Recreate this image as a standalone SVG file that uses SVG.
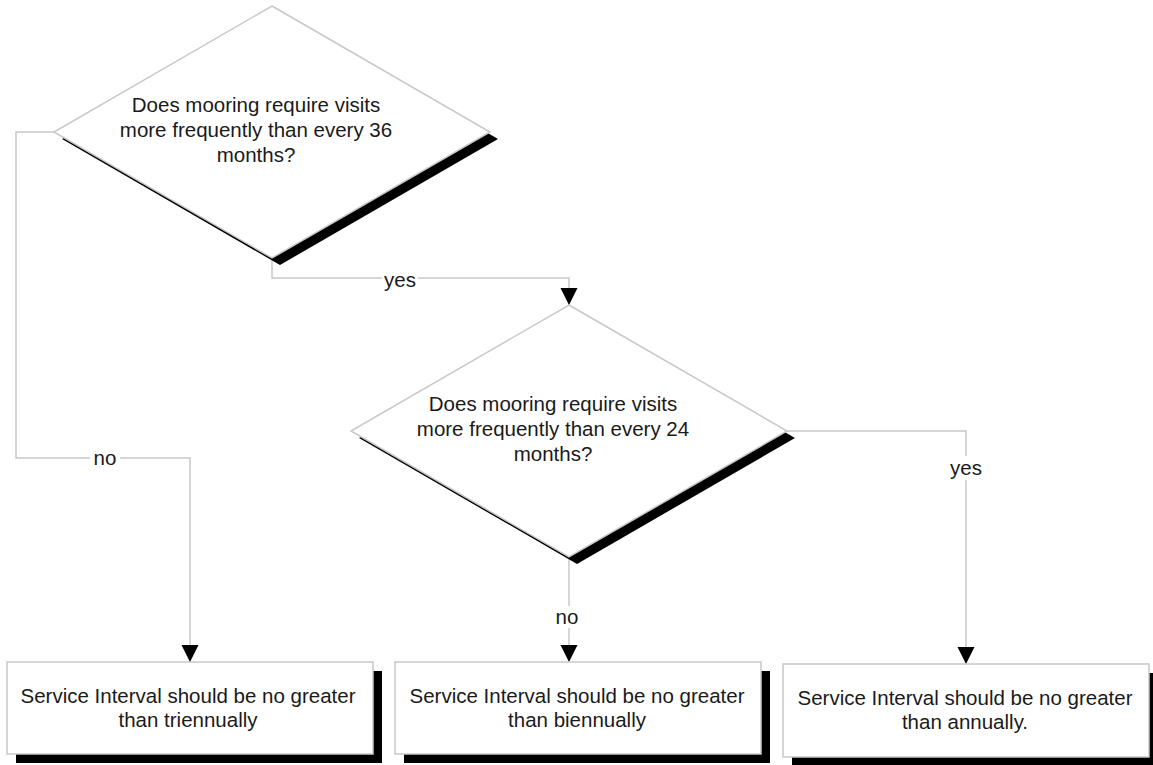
<svg xmlns="http://www.w3.org/2000/svg" width="1153" height="765" viewBox="0 0 1153 765">
<defs>
<style>
.shape{fill:#fff;stroke:#c8c8c8;stroke-width:1.5}
.shadow{fill:#000}
.conn{fill:none;stroke:#c8c8c8;stroke-width:1.5}
.t{font-family:"Liberation Sans",Arial,sans-serif;font-size:20.5px;fill:#1a1a1a;text-anchor:middle}
.lbl{font-family:"Liberation Sans",Arial,sans-serif;font-size:20.5px;fill:#1a1a1a;text-anchor:middle}
.arrow{fill:#000}
</style>
<marker id="ah" markerUnits="userSpaceOnUse" markerWidth="18" markerHeight="18" viewBox="0 0 18 18" refX="17" refY="9" orient="auto">
<path d="M0,0.5 L17,9 L0,17.5 Z" class="arrow"/>
</marker>
</defs>
<rect width="1153" height="765" fill="#fff"/>

<g id="connectors">
<path class="conn" d="M272,258 V278 H569 V305" marker-end="url(#ah)"/>
<path class="conn" d="M54,132 H16 V458 H190 V662" marker-end="url(#ah)"/>
<path class="conn" d="M569,557 V662" marker-end="url(#ah)"/>
<path class="conn" d="M787,431 H966 V664" marker-end="url(#ah)"/>
<rect x="382" y="268" width="36" height="22" fill="#fff"/>
<text class="lbl" x="400" y="287">yes</text>
<rect x="90" y="448" width="30" height="22" fill="#fff"/>
<text class="lbl" x="105" y="465">no</text>
<rect x="553" y="606" width="30" height="22" fill="#fff"/>
<text class="lbl" x="567" y="624">no</text>
<rect x="948" y="456" width="36" height="24" fill="#fff"/>
<text class="lbl" x="966" y="475">yes</text>
</g>

<g id="decision1">
<polygon class="shadow" points="280,13 498,139 280,265 62,139"/>
<polygon class="shape" points="272,6 490,132 272,258 54,132"/>
<text class="t" x="256" y="112">Does mooring require visits</text>
<text class="t" x="256" y="137">more frequently than every 36</text>
<text class="t" x="256" y="162">months?</text>
</g>

<g id="decision2">
<polygon class="shadow" points="577,312 795,438 577,564 359,438"/>
<polygon class="shape" points="569,305 787,431 569,557 351,431"/>
<text class="t" x="553" y="411">Does mooring require visits</text>
<text class="t" x="553" y="436">more frequently than every 24</text>
<text class="t" x="553" y="461">months?</text>
</g>

<g id="result1">
<rect class="shadow" x="16" y="671" width="366" height="92"/>
<rect class="shape" x="7" y="662" width="366" height="92"/>
<text class="t" x="188" y="703">Service Interval should be no greater</text>
<text class="t" x="188" y="727">than triennually</text>
</g>

<g id="result2">
<rect class="shadow" x="404" y="671" width="366" height="92"/>
<rect class="shape" x="395" y="662" width="366" height="92"/>
<text class="t" x="577" y="703">Service Interval should be no greater</text>
<text class="t" x="577" y="727">than biennually</text>
</g>

<g id="result3">
<rect class="shadow" x="792" y="673" width="366" height="92"/>
<rect class="shape" x="783" y="664" width="366" height="93"/>
<text class="t" x="965" y="705">Service Interval should be no greater</text>
<text class="t" x="965" y="729">than annually.</text>
</g>
</svg>
